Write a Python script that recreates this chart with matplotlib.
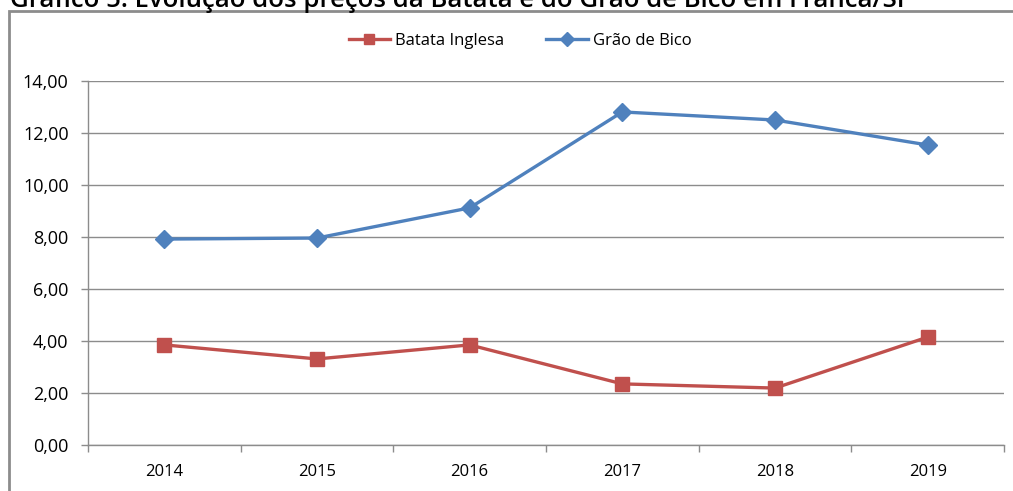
import matplotlib
matplotlib.use("Agg")
import matplotlib.pyplot as plt
from matplotlib.patches import Rectangle
import numpy as np

anos = ['2014', '2015', '2016', '2017', '2018', '2019']
batata = [3.85, 3.31, 3.85, 2.35, 2.19, 4.15]
grao = [7.92, 7.96, 9.12, 12.81, 12.50, 11.54]
y_ticks = [0, 2, 4, 6, 8, 10, 12, 14]

plt.rcParams['font.family'] = ['Open Sans', 'DejaVu Sans']

fig = plt.figure(figsize=(10.13, 4.91), dpi=100)
W, H = 1013, 491

# title cut off at the top of the image (as in the source)
fig.text(10 / W, 1 - 7 / H, 'Gráfico 5: Evolução dos preços da Batata e do Grão de Bico em Franca/SP',
         fontsize=18.5, fontweight='semibold', ha='left', va='baseline', color='black')

# chart frame
fig.patches.append(Rectangle((8.5 / W, -0.1), 1.2, 1 - 11 / H + 0.1, transform=fig.transFigure,
                             fill=False, edgecolor='#8c8c8c', linewidth=2, zorder=0))

ax = fig.add_axes([88 / W, 46 / H, 916 / W, 364 / H])
x = np.arange(len(anos))

ax.plot(x, batata, color='#C0504D', linewidth=2.4, marker='s', markersize=10,
        label='Batata Inglesa', zorder=3)
ax.plot(x, grao, color='#4F81BD', linewidth=2.4, marker='D', markersize=9,
        label='Grão de Bico', zorder=3)

ax.set_xlim(-0.5, len(anos) - 0.5)
ax.set_ylim(0, 14)
ax.set_yticks(y_ticks)
ax.set_yticklabels(['%d,00' % v for v in y_ticks], fontsize=13)
ax.set_xticks(x)
ax.set_xticklabels(anos, fontsize=12)
ax.set_xticks(np.arange(-0.5, len(anos)), minor=True)
ax.tick_params(axis='x', which='major', length=0, pad=14)
ax.tick_params(axis='x', which='minor', length=5, color='#8c8c8c', width=1)
ax.tick_params(axis='y', length=5, color='#8c8c8c', width=1, pad=9)

ax.grid(axis='y', color='#8c8c8c', linewidth=1)
ax.set_axisbelow(True)
for s in ['top', 'right']:
    ax.spines[s].set_visible(False)
for s in ['left', 'bottom']:
    ax.spines[s].set_color('#8c8c8c')
    ax.spines[s].set_linewidth(1)

fig.legend(loc='center', bbox_to_anchor=(520 / W, 1 - 41 / H), ncol=2, frameon=False,
           fontsize=12, handlelength=2.5, columnspacing=2.5, handletextpad=0.3,
           markerscale=0.75)

fig.savefig('out.png', dpi=100)
